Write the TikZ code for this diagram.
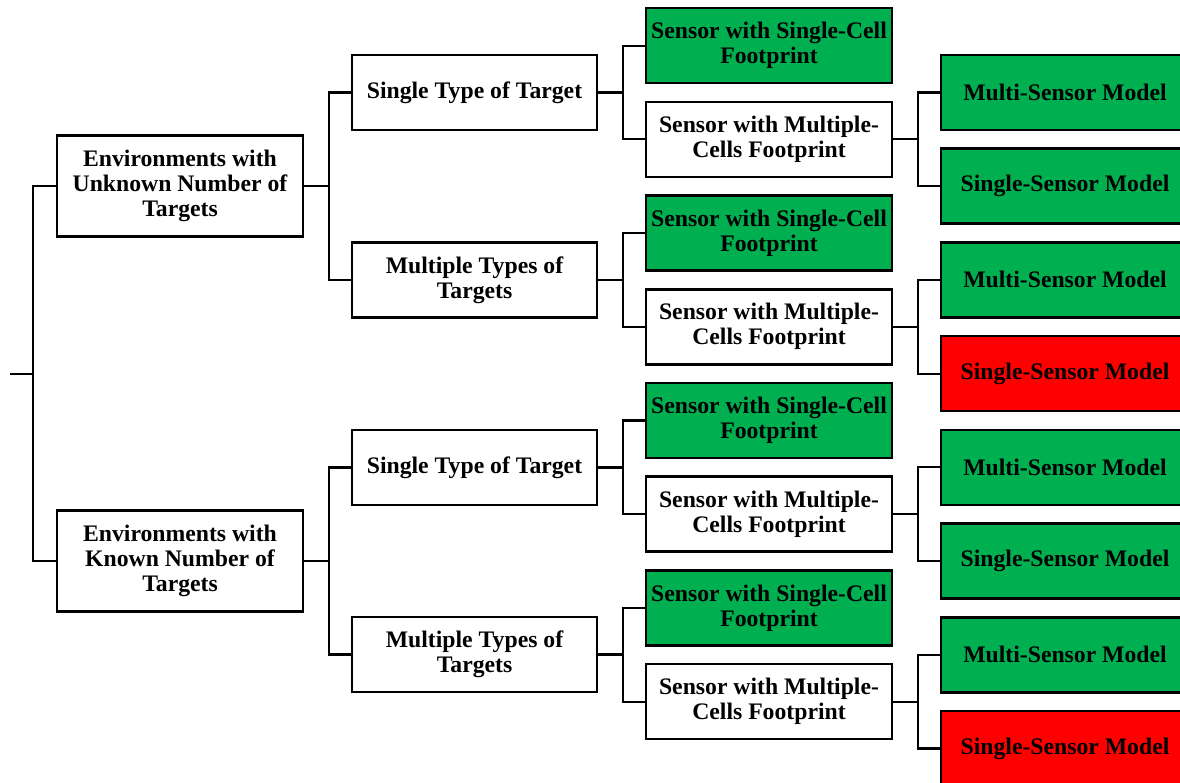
\documentclass[tikz,border=0pt]{standalone}
\usepackage{fontspec}
\setmainfont{Liberation Serif}
\definecolor{boxgreen}{HTML}{00B050}
\definecolor{boxred}{HTML}{FF0000}
\begin{document}
\begin{tikzpicture}[x=1pt,y=-1pt,
  box/.style={draw=black,line width=2.6pt,fill=white,inner sep=0pt,align=center,
    minimum height=75pt,font=\bfseries\fontsize{23.7}{25}\selectfont},
  envbox/.style={box,minimum width=246pt,minimum height=101pt},
  typebox/.style={box,minimum width=245pt},
  sensbox/.style={box,minimum width=246pt},
  modelbox/.style={box,minimum width=248pt},
  greenbox/.style={fill=boxgreen},
  redbox/.style={fill=boxred},
  link/.style={draw=black,line width=2.2pt,line join=miter}]
\useasboundingbox (0,0) rectangle (1180,783);
\clip (0,0) rectangle (1180,783);

% level 1
\node[envbox] (E1) at (180,186) {Environments with\\Unknown Number of\\Targets};
\node[envbox] (E2) at (180,561) {Environments with\\Known Number of\\Targets};

% level 2
\node[typebox] (T1) at (474.5,92.5) {Single Type of Target};
\node[typebox] (T2) at (474.5,280) {Multiple Types of\\Targets};
\node[typebox] (T3) at (474.5,467.5) {Single Type of Target};
\node[typebox] (T4) at (474.5,654.5) {Multiple Types of\\Targets};

% level 3
\node[sensbox,greenbox] (S1) at (769,45.7) {Sensor with Single-Cell\\Footprint};
\node[sensbox] (S2) at (769,139.4) {Sensor with Multiple-\\Cells Footprint};
\node[sensbox,greenbox] (S3) at (769,233.1) {Sensor with Single-Cell\\Footprint};
\node[sensbox] (S4) at (769,326.8) {Sensor with Multiple-\\Cells Footprint};
\node[sensbox,greenbox] (S5) at (769,420.5) {Sensor with Single-Cell\\Footprint};
\node[sensbox] (S6) at (769,514.2) {Sensor with Multiple-\\Cells Footprint};
\node[sensbox,greenbox] (S7) at (769,607.9) {Sensor with Single-Cell\\Footprint};
\node[sensbox] (S8) at (769,701.6) {Sensor with Multiple-\\Cells Footprint};

% level 4
\node[modelbox,greenbox] (M1) at (1065,92.5) {Multi-Sensor Model};
\node[modelbox,greenbox] (M2) at (1065,186.2) {Single-Sensor Model};
\node[modelbox,greenbox] (M3) at (1065,279.9) {Multi-Sensor Model};
\node[modelbox,redbox]   (M4) at (1065,373.6) {Single-Sensor Model};
\node[modelbox,greenbox] (M5) at (1065,467.3) {Multi-Sensor Model};
\node[modelbox,greenbox] (M6) at (1065,561.0) {Single-Sensor Model};
\node[modelbox,greenbox] (M7) at (1065,654.7) {Multi-Sensor Model};
\node[modelbox,redbox]   (M8) at (1065,748.4) {Single-Sensor Model};

% root connector
\coordinate (root) at (10,373.6);
\coordinate (jR) at (33,373.6);
\draw[link] (root) -- (jR);
\draw[link] (E1.west) -| (jR) |- (E2.west);

% level 1 -> level 2
\draw[link] (E1.east) -- ++(24.5,0) coordinate (j1);
\draw[link] (T1.west) -| (j1) |- (T2.west);
\draw[link] (E2.east) -- ++(24.5,0) coordinate (j2);
\draw[link] (T3.west) -| (j2) |- (T4.west);

% level 2 -> level 3
\foreach \t/\a/\b in {T1/S1/S2,T2/S3/S4,T3/S5/S6,T4/S7/S8}{
  \draw[link] (\t.east) -- ++(24.5,0) coordinate (jt);
  \draw[link] (\a.west) -| (jt) |- (\b.west);
}

% level 3 -> level 4
\foreach \s/\a/\b in {S2/M1/M2,S4/M3/M4,S6/M5/M6,S8/M7/M8}{
  \draw[link] (\s.east) -- ++(24.5,0) coordinate (js);
  \draw[link] (\a.west) -| (js) |- (\b.west);
}
\end{tikzpicture}
\end{document}
